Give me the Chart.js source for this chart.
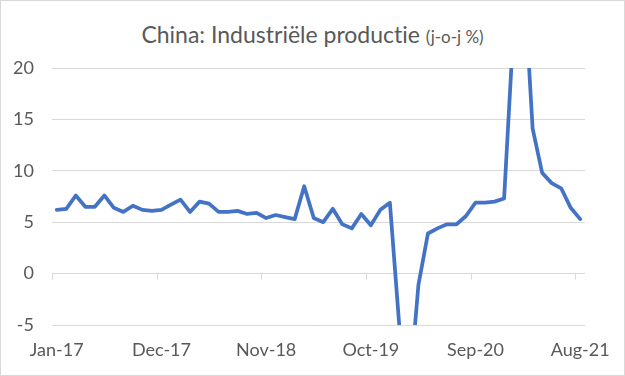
<!DOCTYPE html>
<html>
<head>
<meta charset="utf-8">
<script src="https://cdn.jsdelivr.net/npm/chart.js@4.4.0/dist/chart.umd.min.js"></script>
<style>
  body { margin: 0; background: #fff; }
  #wrap { position: relative; width: 625px; height: 376px; box-sizing: border-box; border: 1px solid #d9d9d9; background: #fff; }
  #title { position: absolute; left: 0; right: 0; top: 19px; text-align: center; font-family: Lato, sans-serif; color: #595959; font-size: 23px; line-height: 28px; font-variant-ligatures: none; }
  #title span { font-size: 17px; }
  canvas { position: absolute; left: 0; top: 0; }
</style>
</head>
<body>
<div id="wrap">
  <div id="title">China: Industriële productie <span>(j-o-j %)</span></div>
  <canvas id="ipChart" width="623" height="374"></canvas>
</div>
<script>
// Monthly categories Jan-17 .. Aug-21
const months = [
  "Jan-17","Feb-17","Mar-17","Apr-17","May-17","Jun-17","Jul-17","Aug-17","Sep-17","Oct-17","Nov-17","Dec-17",
  "Jan-18","Feb-18","Mar-18","Apr-18","May-18","Jun-18","Jul-18","Aug-18","Sep-18","Oct-18","Nov-18","Dec-18",
  "Jan-19","Feb-19","Mar-19","Apr-19","May-19","Jun-19","Jul-19","Aug-19","Sep-19","Oct-19","Nov-19","Dec-19",
  "Jan-20","Feb-20","Mar-20","Apr-20","May-20","Jun-20","Jul-20","Aug-20","Sep-20","Oct-20","Nov-20","Dec-20",
  "Jan-21","Feb-21","Mar-21","Apr-21","May-21","Jun-21","Jul-21","Aug-21"
];

// Industrial production, y-o-y %
const ip2017 = [6.2, 6.3, 7.6, 6.5, 6.5, 7.6, 6.4, 6.0, 6.6, 6.2, 6.1, 6.2];
const ip2018 = [6.7, 7.2, 6.0, 7.0, 6.8, 6.0, 6.0, 6.1, 5.8, 5.9, 5.4, 5.7];
const ip2019 = [5.5, 5.3, 8.5, 5.4, 5.0, 6.3, 4.8, 4.4, 5.8, 4.7, 6.2, 6.9];
const ip2020 = [-5.2, -12.0, -1.1, 3.9, 4.4, 4.8, 4.8, 5.6, 6.9, 6.9, 7.0, 7.3];
const ip2021 = [24.0, 30.0, 14.1, 9.8, 8.8, 8.3, 6.4, 5.3];

const yTicks = [-5, 0, 5, 10, 15, 20];
const labelEvery = 11;

const production = [].concat(ip2017, ip2018, ip2019, ip2020, ip2021);

const textColor = "#595959";
const gridColor = "#d9d9d9";

// small tick marks hanging off the zero line, on category boundaries
const zeroAxisTicks = {
  id: "zeroAxisTicks",
  beforeDatasetsDraw(chart) {
    const x = chart.scales.x, y = chart.scales.y;
    const y0 = y.getPixelForValue(0);
    const step = x.getPixelForValue(1) - x.getPixelForValue(0);
    const c = chart.ctx;
    c.save();
    c.strokeStyle = gridColor;
    c.lineWidth = 1;
    c.beginPath();
    for (let i = 0; i < months.length; i += labelEvery) {
      const px = Math.round(x.getPixelForValue(i) - step / 2) + 0.5;
      c.moveTo(px, y0);
      c.lineTo(px, y0 + 6);
    }
    c.stroke();
    c.restore();
  }
};

new Chart(document.getElementById("ipChart"), {
  type: "line",
  data: {
    labels: months,
    datasets: [{
      data: production,
      borderColor: "#4472C4",
      borderWidth: 3.75,
      pointRadius: 0,
      tension: 0,
      borderJoinStyle: "round",
      borderCapStyle: "round"
    }]
  },
  options: {
    responsive: false,
    animation: false,
    layout: { padding: { top: 67, right: 35, bottom: 6, left: 0 } },
    plugins: { legend: { display: false }, tooltip: { enabled: false } },
    scales: {
      x: {
        offset: true,
        grid: { display: false, drawTicks: false },
        border: { display: false },
        ticks: {
          autoSkip: false,
          maxRotation: 0,
          padding: 14,
          color: textColor,
          font: { family: "Lato", size: 18 },
          callback: (v, i) => (i % labelEvery === 0 ? months[i] : "")
        },
        afterFit: (s) => { s.height = 44; }
      },
      y: {
        min: -5,
        max: 20,
        afterBuildTicks: (s) => { s.ticks = yTicks.map(v => ({ value: v })); },
        grid: { color: gridColor, drawTicks: false },
        border: { display: false },
        ticks: {
          padding: 18,
          color: textColor,
          font: { family: "Lato", size: 18 }
        },
        afterFit: (s) => { s.width = 51; }
      }
    }
  },
  plugins: [zeroAxisTicks]
});
</script>
</body>
</html>
